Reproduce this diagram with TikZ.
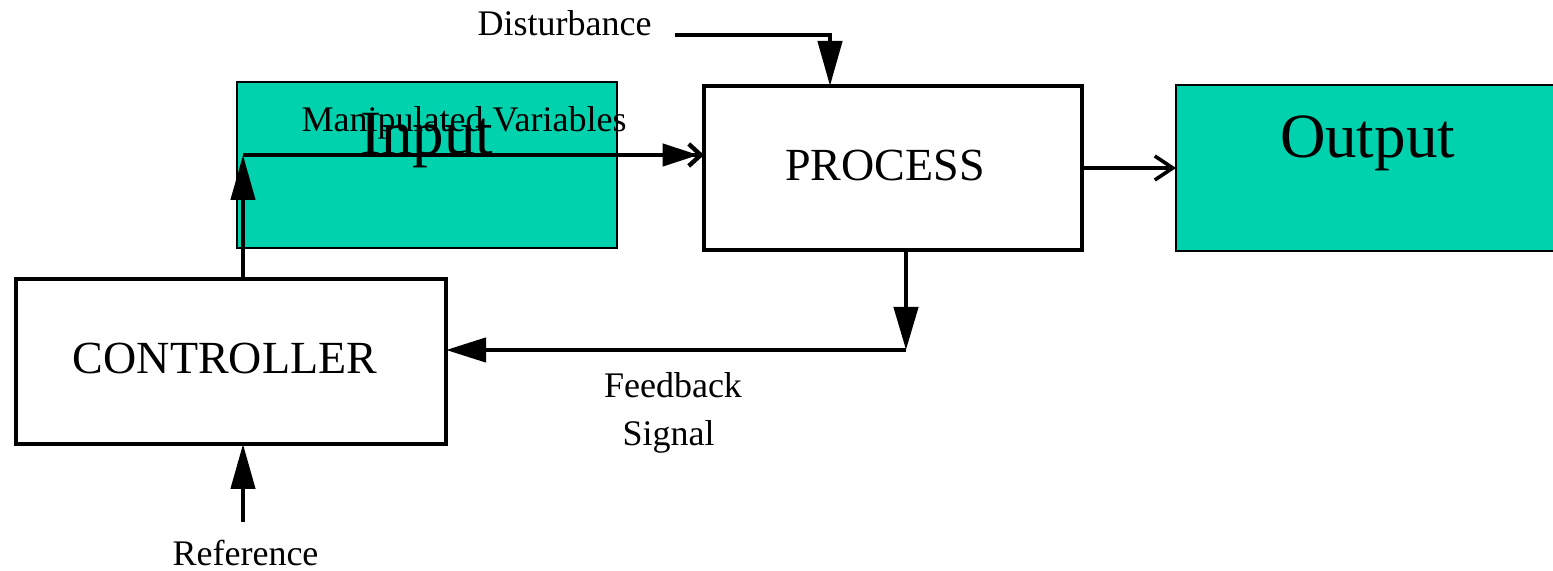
\documentclass[tikz,border=0pt]{standalone}
\usepackage{fontspec}
\setmainfont{Liberation Serif}
\usetikzlibrary{arrows.meta,calc}
\definecolor{teal1}{RGB}{0,210,173}
\begin{document}
\begin{tikzpicture}[x=0.5pt,y=-0.5pt,
  thinbox/.style={draw, line width=0.75pt, fill=teal1, inner sep=0pt, outer sep=0pt},
  thickbox/.style={draw, line width=2.4pt, inner sep=0pt, outer sep=0pt},
  boxtxt/.style={inner sep=0pt, font=\fontsize{23}{26}\selectfont},
  lbl/.style={inner sep=0pt, anchor=base, font=\fontsize{18}{20}\selectfont},
  big/.style={inner sep=0pt, anchor=base, font=\fontsize{31.5}{34}\selectfont},
  conn/.style={line width=2.2pt},
  tri/.style={-{Triangle[length=22.5pt,width=12pt]}},
]
\useasboundingbox (0,0) rectangle (1553,571);
% boxes
\node[thinbox, minimum width=190pt, minimum height=83pt] (inbox) at (427,165) {};
\node[thinbox, minimum width=192pt, minimum height=83pt] (out) at (1368,168) {};
\node[thickbox, minimum width=189pt, minimum height=82pt] (proc) at (893,168) {};
\node[thickbox, minimum width=215pt, minimum height=82.5pt] (ctrl) at (231,361.5) {};
% texts
\node[boxtxt] (proctxt) at (885,166) {PROCESS};
\node[boxtxt] (ctrltxt) at (225,358) {CONTROLLER};
\node[big] (intxt) at (427,155) {Input};
\node[big] (outtxt) at (1367.5,158) {Output};
\node[lbl] (mvtxt) at (464,132) {Manipulated Variables};
\node[lbl] (dsttxt) at (564.5,36) {Disturbance};
\node[lbl] (fbtxt1) at (673,398) {Feedback};
\node[lbl] (fbtxt2) at (668.5,446) {Signal};
\node[lbl] (reftxt) at (245.5,566) {Reference};
% connectors
\coordinate (mv) at (243,155);
\draw[conn, tri] (mv |- ctrl.north) -- (mv);
\draw[conn, -{Triangle[length=18pt,width=11pt,sep=-6pt]Straight Barb[length=6pt,width=11pt]}] (mv) -- (mv -| proc.west);
\coordinate (dst) at (675,35);
\draw[conn, -{Triangle[length=22.5pt,width=12pt]}] (dst) -| ($(proc.north west)+(126,0)$);
\draw[line width=1.8pt, -{Straight Barb[length=9pt,width=12pt]}] (proc.east) -- (out.west);
\coordinate (fb) at (906,350);
\draw[conn, -{Triangle[length=21.5pt,width=12pt]}] (fb |- proc.south) -- (fb);
\draw[conn, -{Triangle[length=20pt,width=12pt]}] (fb) -- (fb -| ctrl.east);
\coordinate (rf) at (243,522);
\draw[conn, tri] (rf) -- (rf |- ctrl.south);
\end{tikzpicture}
\end{document}
